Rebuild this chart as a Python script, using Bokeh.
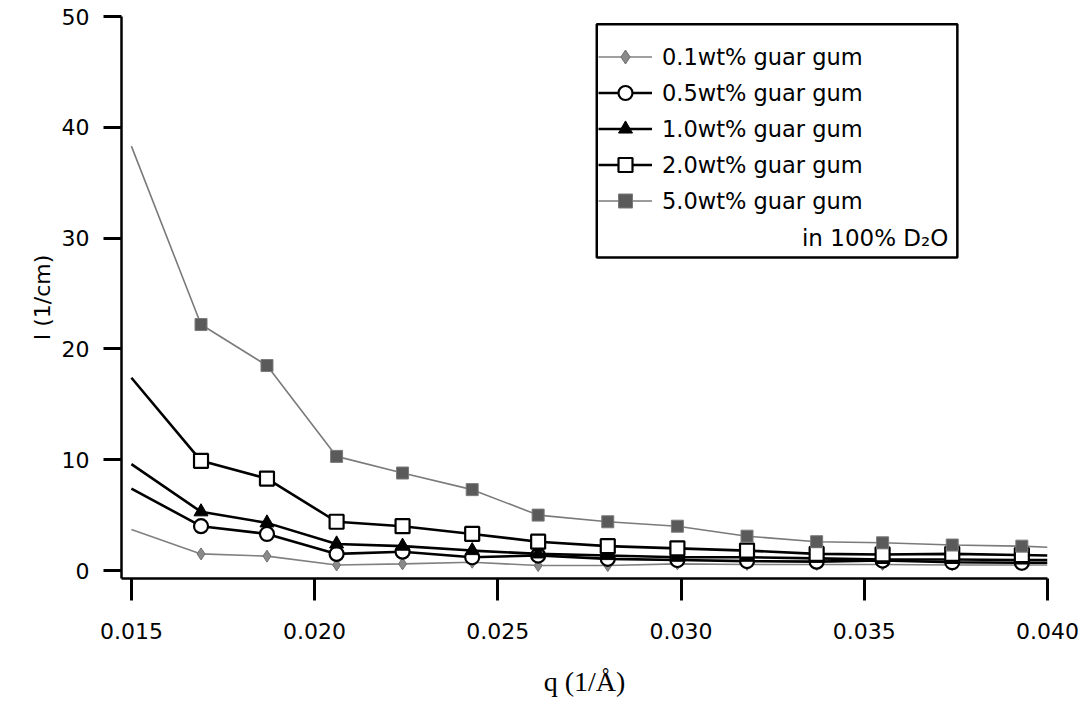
from bokeh.plotting import figure
from bokeh.models import (Legend, LegendItem, BoxAnnotation, Label, Range1d,
                          FixedTicker, PrintfTickFormatter)
from bokeh.embed import file_html
from bokeh.resources import INLINE

# ---- data ----
q = [0.0150, 0.0169, 0.0187, 0.0206, 0.0224, 0.0243, 0.0261, 0.0280,
     0.0299, 0.0318, 0.0337, 0.0355, 0.0374, 0.0393, 0.0400]
i_01 = [3.7, 1.5, 1.3, 0.5, 0.6, 0.75, 0.45, 0.45, 0.6, 0.55, 0.55, 0.55, 0.5, 0.5, 0.5]
i_05 = [7.4, 4.0, 3.3, 1.5, 1.7, 1.2, 1.35, 1.05, 0.95, 0.85, 0.8, 0.9, 0.75, 0.7, 0.7]
i_10 = [9.6, 5.3, 4.3, 2.4, 2.2, 1.8, 1.5, 1.35, 1.2, 1.2, 1.1, 1.0, 1.0, 0.95, 0.95]
i_20 = [17.4, 9.9, 8.3, 4.4, 4.0, 3.3, 2.6, 2.2, 2.0, 1.8, 1.5, 1.45, 1.5, 1.4, 1.35]
i_50 = [38.3, 22.2, 18.5, 10.3, 8.8, 7.3, 5.0, 4.4, 4.0, 3.1, 2.6, 2.5, 2.3, 2.2, 2.1]
labels = ["0.1wt% guar gum", "0.5wt% guar gum", "1.0wt% guar gum",
          "2.0wt% guar gum", "5.0wt% guar gum"]
x_ticks = [0.015, 0.020, 0.025, 0.030, 0.035, 0.040]
y_ticks = [0, 10, 20, 30, 40, 50]

SANS = "DejaVu Sans"
SERIF = "Liberation Serif"

p = figure(width=1086, height=702, output_backend="svg", toolbar_location=None,
           x_range=Range1d(0.01473, 0.0400), y_range=Range1d(-0.72, 50),
           min_border_left=121, min_border_right=39, min_border_top=16,
           min_border_bottom=124)
p.outline_line_color = None
p.xgrid.visible = False
p.ygrid.visible = False

# markers are shown on the measured points, not on the line ends
mk = slice(1, 14)

styles = [
    dict(y=i_01, lc="#808080", lw=1.6, marker="diamond", size=12, fill="#8a8a8a", mlc="#707070", mlw=1),
    dict(y=i_05, lc="black", lw=2.6, marker="circle", size=14, fill="white", mlc="black", mlw=2.2),
    dict(y=i_10, lc="black", lw=2.6, marker="triangle", size=14, fill="black", mlc="black", mlw=1),
    dict(y=i_20, lc="black", lw=2.6, marker="square", size=14, fill="white", mlc="black", mlw=2.2),
    dict(y=i_50, lc="#7a7a7a", lw=1.6, marker="square", size=12, fill="#5a5a5a", mlc="#7a7a7a", mlw=1),
]

items = []
for lab, s in zip(labels, styles):
    ln = p.line(q, s["y"], line_color=s["lc"], line_width=s["lw"])
    sc = p.scatter(q[mk], s["y"][mk], marker=s["marker"], size=s["size"],
                   fill_color=s["fill"], line_color=s["mlc"], line_width=s["mlw"])
    items.append(LegendItem(label=lab, renderers=[ln, sc]))

# axes
for ax, ticks in ((p.xaxis[0], x_ticks), (p.yaxis[0], y_ticks)):
    ax.ticker = FixedTicker(ticks=ticks)
    ax.minor_tick_line_color = None
    ax.major_tick_in = 0
    ax.axis_line_width = 2.5
    ax.major_tick_line_width = 3
    ax.major_label_text_font = SANS
    ax.major_label_text_font_size = "22px"
    ax.major_label_text_color = "black"
    ax.axis_line_color = "black"
    ax.major_tick_line_color = "black"
    ax.axis_label_text_color = "black"

p.xaxis.formatter = PrintfTickFormatter(format="%.3f")
p.xaxis.major_tick_out = 22
p.xaxis.major_label_standoff = 22
p.xaxis.axis_label = "q (1/Å)"
p.xaxis.axis_label_text_font = SERIF
p.xaxis.axis_label_text_font_style = "normal"
p.xaxis.axis_label_text_font_size = "28px"
p.xaxis.axis_label_standoff = 24

p.yaxis.major_tick_out = 18
p.yaxis.major_label_standoff = 14
p.yaxis.axis_label = "I (1/cm)"
p.yaxis.axis_label_text_font = SANS
p.yaxis.axis_label_text_font_style = "normal"
p.yaxis.axis_label_text_font_size = "22px"
p.yaxis.axis_label_standoff = 4

# legend box
box = BoxAnnotation(left=0.0277, right=0.03754, top=49.3, bottom=28.25,
                    fill_alpha=0, line_color="black", line_alpha=1.0,
                    line_width=2.5)
p.add_layout(box)

legend = Legend(items=items, location=(477, 360), padding=0, margin=0,
                border_line_color=None, background_fill_alpha=0,
                glyph_width=54, glyph_height=35, label_height=20,
                label_standoff=10, spacing=1,
                label_text_font=SANS, label_text_font_size="22.5px",
                label_text_color="black")
p.add_layout(legend, "center")

d2o = Label(x=0.03754, y=30.05, x_offset=-9, text="in 100% D₂O",
            text_align="right", text_baseline="middle", text_color="black",
            text_font=SANS, text_font_size="23px")
p.add_layout(d2o)

open("out.html", "w").write(file_html(p, INLINE))
